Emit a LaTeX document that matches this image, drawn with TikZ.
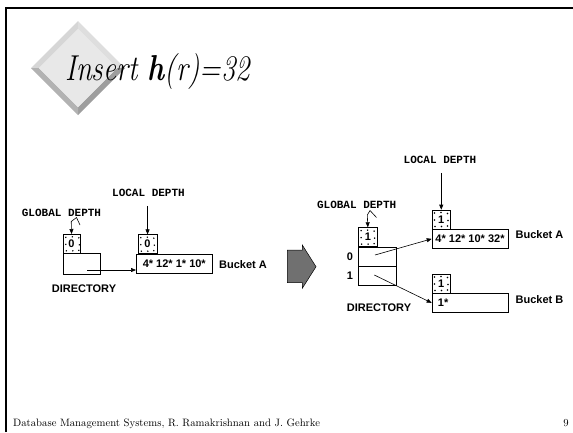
\documentclass[tikz,border=0pt]{standalone}
\usepackage{fontspec}
\usepackage{tikz}
\usetikzlibrary{arrows.meta, positioning, calc}
\newfontfamily\boxsans{Liberation Sans}
\newfontfamily\boxmono{Liberation Mono}
\definecolor{arrowgray}{RGB}{112,112,112}
\definecolor{bevlight}{RGB}{214,214,214}
\definecolor{bevtop}{RGB}{222,222,222}
\definecolor{bevmid}{RGB}{178,178,178}
\definecolor{bevdark}{RGB}{158,158,158}
\definecolor{faceg}{RGB}{232,232,232}

\tikzset{
  tag/.style={font=\boxmono\bfseries\fontsize{11}{11}\selectfont, inner sep=0pt},
  lbl/.style={font=\boxsans\bfseries\fontsize{11}{11}\selectfont, inner sep=0pt},
  ptr/.style={-{Triangle[length=5pt,width=4pt]}, line width=0.6pt},
  dirbox/.style={draw, line width=0.6pt, minimum width=37.5pt, inner sep=0pt},
  bucket/.style={draw, line width=0.6pt, minimum width=76pt, minimum height=18.5pt,
    inner sep=0pt, font=\boxsans\bfseries\fontsize{11}{11}\selectfont},
  depthbox/.style={draw, line width=0.6pt, minimum width=18.5pt, minimum height=19pt,
    inner sep=0pt, font=\boxsans\bfseries\fontsize{11}{11}\selectfont,
    path picture={
      \foreach \px/\py in {2.5/3, 9/2.5, 15.5/3.5, 2.5/10, 16/10.5, 3/16.5, 9.5/16.5, 15.5/16}
        \fill ($(path picture bounding box.north west)+(\px pt,-\py pt)$) circle (0.8pt);
    }},
}

\begin{document}
\begin{tikzpicture}[x=1pt, y=-1pt]
    \useasboundingbox (0,0) rectangle (573,432);

    % slide frame
    \draw[line width=2pt] (6.3,432) -- (6.3,8.3) -- (573,8.3);

    % title diamond
    \fill[bevlight] (31,68) -- (78,21) -- (78,29) -- (39,68) -- cycle;
    \fill[bevtop] (78,21) -- (125,68) -- (117,68) -- (78,29) -- cycle;
    \fill[bevdark] (125,68) -- (78,115) -- (78,107) -- (117,68) -- cycle;
    \fill[bevmid] (78,115) -- (31,68) -- (39,68) -- (78,107) -- cycle;
    \fill[faceg] (39,68) -- (78,29) -- (117,68) -- (78,107) -- cycle;
    \node[anchor=base west, inner sep=0pt, font=\fontsize{36}{40}\selectfont\itshape] (title) at (65,80)
        {\scalebox{0.8}[1]{Insert {\bfseries h}(r)=32}};

    % Before: one bucket
    \node[tag] (gtxtL) at (61.5,213) {GLOBAL DEPTH};
    \node[depthbox, minimum width=16.5pt, anchor=north west] (gdL) at (63,234) {0};
    \node[dirbox, minimum height=21pt, anchor=north west] (dirL) at (62.5,253) {};
    \node[lbl] (dtxtL) at (84,289) {DIRECTORY};
    \coordinate (gzL) at (80,225);
    \draw[ptr] (gzL) -- ++(-3.5,-7.5) -- ++(-5.25,4) -- (gdL.north);

    \node[bucket, anchor=north west] (bktL) at (136,254) {4* 12* 1* 10*};
    \node[depthbox, anchor=south west] (ldL) at ([xshift=2pt]bktL.north west) {0};
    \node[tag] (ltxtL) at (148.5,193) {LOCAL DEPTH};
    \draw[ptr] (ltxtL.south -| ldL.north) ++(0,9) -- (ldL.north);
    \node[lbl] (nameL) at (243,265) {Bucket A};

    \coordinate (srcL) at (87,270);
    \draw[ptr] (srcL) -- (srcL -| bktL.west);

    % Arrow
    \fill[arrowgray, draw=black, line width=0.5pt] (287.3,250) -- (302.3,250) -- (302.3,245) -- (316,266.7)
        -- (302.3,288.3) -- (302.3,282.7) -- (287.3,282.7) -- cycle;

    % After: split into A and B
    \node[tag] (gtxtR) at (356.7,205) {GLOBAL DEPTH};
    \node[depthbox, anchor=north west] (gdR) at (358.3,227.3) {1};
    \node[dirbox, minimum height=18.6pt, anchor=north west] (dir0) at (gdR.south west) {};
    \node[dirbox, minimum height=18.6pt, anchor=north west] (dir1) at (dir0.south west) {};
    \node[lbl, left=5pt of dir0] (lab0) {0};
    \node[lbl, left=5pt of dir1] (lab1) {1};
    \node[lbl] (dtxtR) at (379,307.7) {DIRECTORY};
    \coordinate (gzR) at (376.5,217.5);
    \draw[ptr] (gzR) -- ++(-6.5,-7) -- ++(-2.7,4.5) -- (gdR.north);

    \node[bucket, anchor=north west] (bktA) at (431.7,229.3) {4* 12* 10* 32*};
    \node[depthbox, anchor=south west] (ldA) at (bktA.north west) {1};
    \node[tag] (ltxtR) at (440,160) {LOCAL DEPTH};
    \draw[ptr] (ltxtR.south -| ldA.north) ++(0,9) -- (ldA.north);
    \node[lbl] (nameA) at (539.5,235) {Bucket A};

    \node[bucket, anchor=north west] (bktB) at (431.7,293.3) {};
    \node[depthbox, anchor=south west] (ldB) at (bktB.north west) {1};
    \node[lbl, anchor=west] (entB) at ([xshift=6pt]bktB.west) {1*};
    \node[lbl] (nameB) at (539.5,299.3) {Bucket B};

    \coordinate (src0) at (375,255);
    \coordinate (src1) at (374.3,275);
    \draw[ptr] (src0) -- (bktA.west);
    \draw[ptr] (src1) -- (bktB.west);

    % footer
    \node[anchor=base west, inner sep=0pt, font=\fontsize{10.7}{12}\selectfont] (foot) at (13,426)
        {Database Management Systems, R. Ramakrishnan and J. Gehrke};
    \node[anchor=base east, inner sep=0pt, font=\fontsize{10.7}{12}\selectfont] (page) at (569,426) {9};
\end{tikzpicture}
\end{document}
